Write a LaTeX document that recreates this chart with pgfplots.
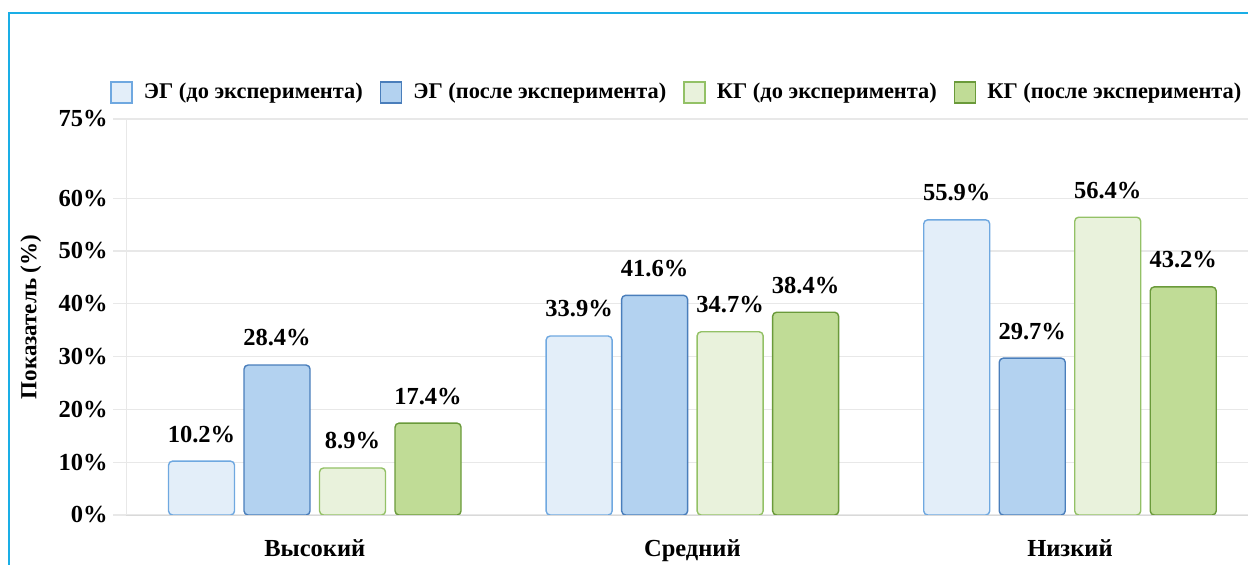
\documentclass[border=0pt]{standalone}
\usepackage{fontspec}
\setmainfont{Liberation Serif}
\usepackage{pgfplots}
\pgfplotsset{compat=1.18}

\definecolor{egpreF}{HTML}{E3EEF9}
\definecolor{egpreD}{HTML}{6FA8E0}
\definecolor{egpostF}{HTML}{B3D2F0}
\definecolor{egpostD}{HTML}{4A7EBB}
\definecolor{kgpreF}{HTML}{E9F2DC}
\definecolor{kgpreD}{HTML}{93C166}
\definecolor{kgpostF}{HTML}{C0DC96}
\definecolor{kgpostD}{HTML}{6A9A3A}
\definecolor{frame}{HTML}{1AAEE6}
\definecolor{gridc}{HTML}{E8E8E8}

\begin{document}
\begin{tikzpicture}[x=1pt,y=1pt]
\useasboundingbox (0,0) rectangle (624,282.5);
\draw[frame, line width=1.1pt] (4.5,-2) -- (4.5,276) -- (630,276);

\begin{axis}[
    at={(63pt,25pt)}, anchor=south west,
    scale only axis,
    width=561pt, height=198pt,
    xmin=-0.5, xmax=2.4715,
    ymin=0, ymax=75,
    ybar=4.75pt, bar width=33pt,
    xtick={0,1,2},
    xticklabels={Высокий, Средний, Низкий},
    ytick={0,10,20,30,40,50,60,75},
    yticklabels={0\%,10\%,20\%,30\%,40\%,50\%,60\%,75\%},
    axis lines=left,
    axis line style={draw=gridc, -},
    x axis line style={draw=gray!30},
    ymajorgrids, grid style={gridc, line width=0.6pt},
    tick align=outside,
    major tick length=6.5pt,
    ytick style={draw=gridc, line width=0.6pt},
    xtick style={draw=none},
    tick label style={font=\bfseries\fontsize{12.25}{13}\selectfont},
    yticklabel style={inner sep=0pt, xshift=-2.5pt},
    xticklabel style={inner sep=0pt, anchor=north, yshift=-5.5pt},
    ylabel={Показатель (\%)},
    every axis y label/.style={at={(axis description cs:-0.0847,0.5)}, rotate=90, anchor=center,
        font=\bfseries\fontsize{11.5}{12}\selectfont},
    /pgf/number format/assume math mode=true,
    nodes near coords={\pgfmathprintnumber[fixed, fixed zerofill, precision=1]{\pgfplotspointmeta}\%},
    every node near coord/.append style={font=\bfseries\fontsize{12.25}{13}\selectfont, inner sep=0pt, anchor=south, yshift=9pt, text=black},
    legend columns=4,
    legend style={draw=none, fill=none, at={(axis description cs:-0.0143,1.0)}, anchor=south west, yshift=7.5pt,
        font=\bfseries\fontsize{11.2}{13}\selectfont, inner sep=0pt, nodes={inner sep=0pt},
        /tikz/every odd column/.append style={column sep=5.5pt},
        /tikz/every even column/.append style={column sep=8.5pt}},
    legend image code/.code={\draw[#1, line width=0.8pt, rounded corners=0pt] (0pt,-5.25pt) rectangle (10.5pt,5.25pt);},
]
\addplot[fill=egpreF, draw=egpreD, line width=0.7pt, rounded corners=2pt] coordinates {(0,10.2) (1,33.9) (2,55.9)};
\addplot[fill=egpostF, draw=egpostD, line width=0.7pt, rounded corners=2pt] coordinates {(0,28.4) (1,41.6) (2,29.7)};
\addplot[fill=kgpreF, draw=kgpreD, line width=0.7pt, rounded corners=2pt] coordinates {(0,8.9) (1,34.7) (2,56.4)};
\addplot[fill=kgpostF, draw=kgpostD, line width=0.7pt, rounded corners=2pt] coordinates {(0,17.4) (1,38.4) (2,43.2)};
\legend{ЭГ (до эксперимента), ЭГ (после эксперимента), КГ (до эксперимента), КГ (после эксперимента)}
\end{axis}
\end{tikzpicture}
\end{document}
